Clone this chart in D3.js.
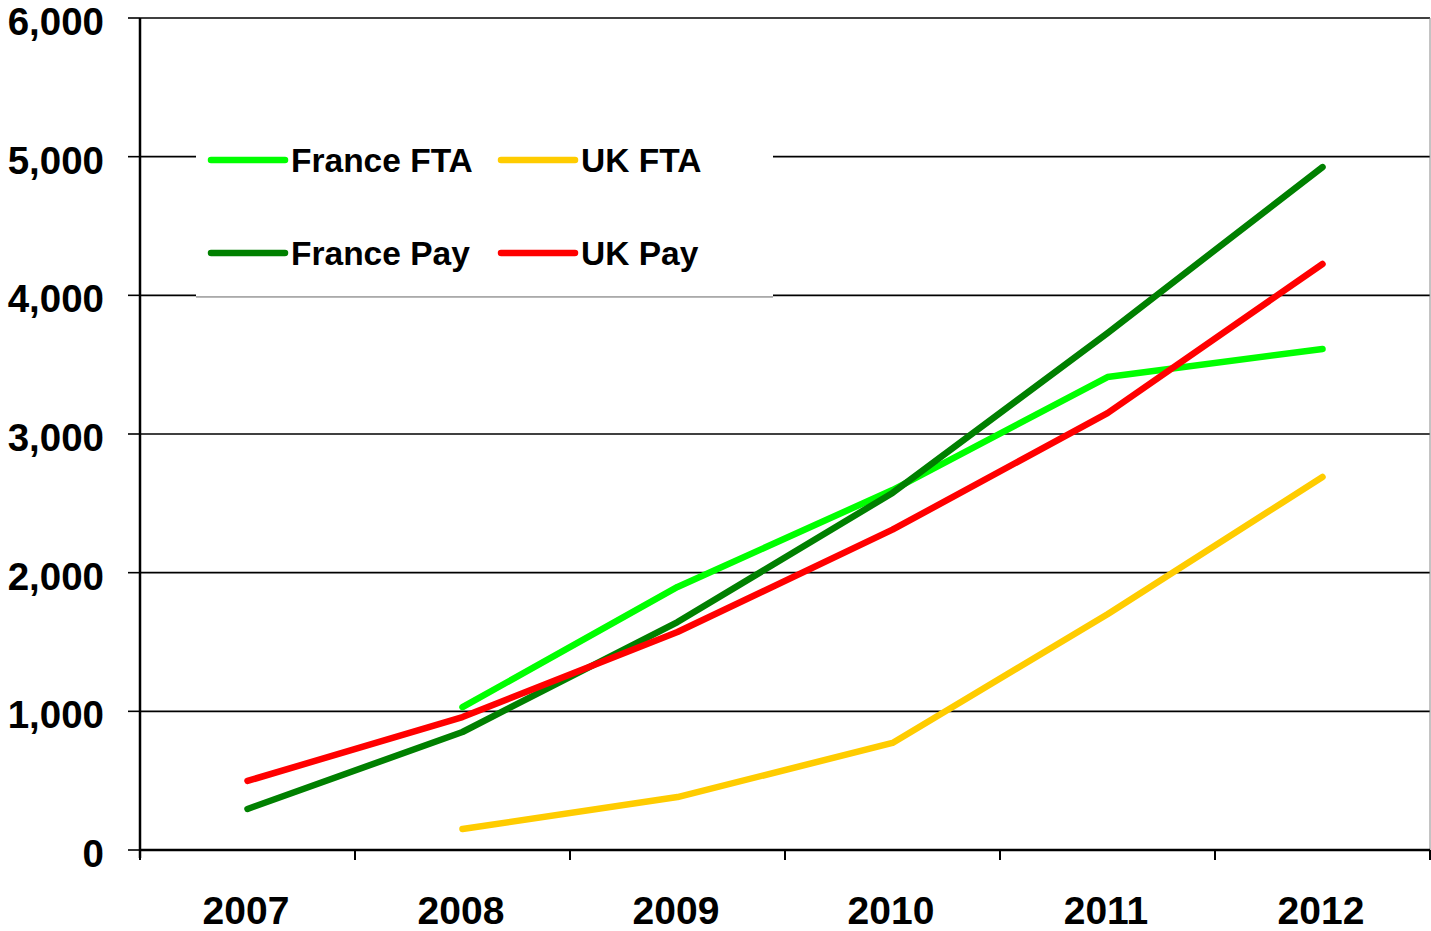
<!DOCTYPE html>
<html>
<head>
<meta charset="utf-8">
<script src="https://cdn.jsdelivr.net/npm/d3@7"></script>
<style>
  html, body { margin: 0; padding: 0; background: #fff; }
  svg { display: block; }
  text { font-family: "Liberation Sans", Arial, sans-serif; font-weight: bold; fill: #000; }
</style>
</head>
<body>
<svg id="chart" width="1431" height="931"></svg>
<script>
const years = ["2007", "2008", "2009", "2010", "2011", "2012"];
const yTicks = [0, 1000, 2000, 3000, 4000, 5000, 6000];
const franceFTA = [null, 1030, 1897, 2596, 3411, 3613];
const franceFTAName = "France FTA";
const ukFTA = [null, 151, 382, 772, 1700, 2690];
const ukFTAName = "UK FTA";
const francePay = [296, 851, 1644, 2575, 3728, 4925];
const francePayName = "France Pay";
const ukPay = [498, 959, 1572, 2310, 3151, 4226];
const ukPayName = "UK Pay";

const series = [
  { name: franceFTAName, values: franceFTA, color: "#00FF00" },
  { name: ukFTAName, values: ukFTA, color: "#FFCC00" },
  { name: francePayName, values: francePay, color: "#008000" },
  { name: ukPayName, values: ukPay, color: "#FF0000" }
];

const svg = d3.select("#chart");
const pL = 140, pR = 1430, pT = 18, pB = 850;

const x = d3.scaleBand().domain(years).range([pL, pR]).padding(0);
const y = d3.scaleLinear().domain([0, 6000]).range([pB, pT]);

// gridlines
svg.append("g").selectAll("line").data(yTicks.filter(d => d > 0)).join("line")
  .attr("x1", pL).attr("x2", pR)
  .attr("y1", d => y(d)).attr("y2", d => y(d))
  .attr("stroke", "#000").attr("stroke-width", 1.6);

// right border
svg.append("line").attr("x1", pR).attr("x2", pR).attr("y1", pT).attr("y2", pB)
  .attr("stroke", "#888").attr("stroke-width", 1);

// legend box (white, covers gridlines)
svg.append("rect").attr("x", 196).attr("y", 154).attr("width", 577).attr("height", 142.5)
  .attr("fill", "#fff");
svg.append("line").attr("x1", 196).attr("x2", 773).attr("y1", 297).attr("y2", 297)
  .attr("stroke", "#777").attr("stroke-width", 1.2);

// y axis
const yAxis = svg.append("g");
yAxis.append("line").attr("x1", pL).attr("x2", pL).attr("y1", pT).attr("y2", pB + 8)
  .attr("stroke", "#000").attr("stroke-width", 2.5);
yAxis.selectAll("line.tick").data(yTicks).join("line").attr("class", "tick")
  .attr("x1", pL - 12).attr("x2", pL)
  .attr("y1", d => y(d)).attr("y2", d => y(d))
  .attr("stroke", "#000").attr("stroke-width", 1.6);
yAxis.selectAll("text").data(yTicks).join("text")
  .attr("x", 104).attr("y", d => y(d) + 17)
  .attr("text-anchor", "end")
  .style("font-size", "38.5px")
  .text(d => d3.format(",")(d));

// x axis
const xAxis = svg.append("g");
xAxis.append("line").attr("x1", pL).attr("x2", pR).attr("y1", pB).attr("y2", pB)
  .attr("stroke", "#000").attr("stroke-width", 2.5);
const edges = years.map(d => x(d)).concat([x(years[years.length - 1]) + x.bandwidth()]);
xAxis.selectAll("line.tick").data(edges).join("line").attr("class", "tick")
  .attr("x1", d => d).attr("x2", d => d)
  .attr("y1", pB).attr("y2", pB + 10)
  .attr("stroke", "#000").attr("stroke-width", 2);
xAxis.selectAll("text").data(years).join("text")
  .attr("x", d => x(d) + x.bandwidth() / 2 - 1.5).attr("y", 924)
  .attr("text-anchor", "middle")
  .style("font-size", "39px")
  .text(d => d);

// lines
const line = d3.line()
  .defined(d => d.v !== null)
  .x(d => x(d.year) + x.bandwidth() / 2)
  .y(d => y(d.v));

const drawOrder = [series[1], series[0], series[2], series[3]];
svg.append("g").selectAll("path").data(drawOrder).join("path")
  .attr("d", s => line(years.map((yr, i) => ({ year: yr, v: s.values[i] }))))
  .attr("fill", "none")
  .attr("stroke", s => s.color)
  .attr("stroke-width", 6.5)
  .attr("stroke-linecap", "round")
  .attr("stroke-linejoin", "round");

// legend
const legendPos = [
  { x: 211, y: 160 }, { x: 501, y: 160 },
  { x: 211, y: 253 }, { x: 501, y: 253 }
];
const lg = svg.append("g").selectAll("g").data(series).join("g")
  .attr("transform", (d, i) => `translate(${legendPos[i].x},${legendPos[i].y})`);
lg.append("line").attr("x1", 0).attr("x2", 74).attr("y1", 0).attr("y2", 0)
  .attr("stroke", d => d.color).attr("stroke-width", 6.5).attr("stroke-linecap", "round");
lg.append("text").attr("x", 80).attr("y", 12)
  .style("font-size", "33.5px")
  .text(d => d.name);
</script>
</body>
</html>
